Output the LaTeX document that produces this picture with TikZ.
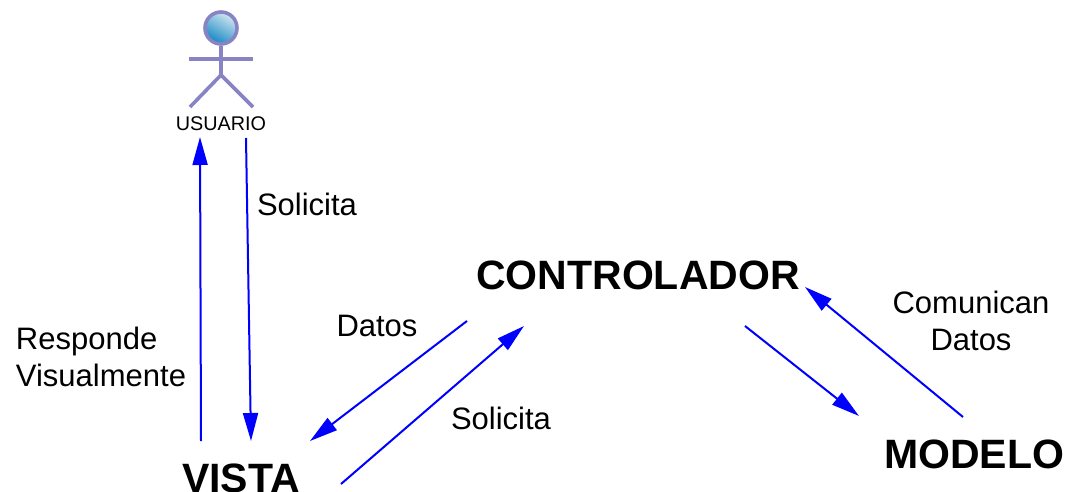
\documentclass[tikz,border=0pt]{standalone}
\usepackage{fontspec}
\setmainfont{Liberation Sans}
\usetikzlibrary{arrows.meta, positioning}

\definecolor{actorline}{HTML}{8884C4}
\definecolor{flowblue}{HTML}{0000FF}
\definecolor{headlight}{HTML}{D4E6F0}
\definecolor{headdark}{HTML}{1488C4}

\tikzset{
    block/.style = {inner sep=0pt, font=\fontsize{41}{41}\bfseries\selectfont},
    note/.style = {inner sep=0pt, font=\fontsize{31}{37}\selectfont},
    flow/.style = {-{Triangle[length=28pt,width=15pt]}, line width=2pt, flowblue},
    actor/.style = {line width=3.6pt, actorline}
}

\begin{document}
\begin{tikzpicture} [x=1pt, y=-1pt]
        \useasboundingbox (0,0) rectangle (1071,492);

        \node (usuario) [inner sep=0pt, font=\fontsize{19.8}{20}\selectfont] at (221,124) {USUARIO};
        \node (vista) [block] at (241,478) {VISTA};
        \node (controlador) [block] at (638,275) {CONTROLADOR};
        \node (modelo) [block] at (974,454) {MODELO};

        \node (solicitaA) [note] at (307,204) {Solicita};
        \node (responde) [note, align=left] at (101,357) {Responde\\Visualmente};
        \node (datos) [note] at (377,326) {Datos};
        \node (solicitaB) [note] at (501,418) {Solicita};
        \node (comunican) [note, align=center] at (971,321) {Comunican\\Datos};

        % actor
        \coordinate (head) at (221,28);
        \coordinate (hip) at (221,75);
        \draw [actor] (head) ++(0,18) -- (hip);
        \draw [actor] (189,59) -- (253,59);
        \draw [actor] (190,107) -- (hip) -- (253,107);
        \shade [shading=axis, top color=headlight, bottom color=headdark, shading angle=-30] (head) circle (16);
        \draw [actor] (head) circle (16);

        \draw [flow] ([shift={(-40,-37)}]vista.center) -- ([shift={(-21,13)}]usuario.center);
        \draw [flow] ([shift={(25,14)}]usuario.center) -- ([shift={(10,-37)}]vista.center);
        \draw [flow] ([shift={(-171,46)}]controlador.center) -- ([shift={(69,-37)}]vista.center);
        \draw [flow] ([shift={(100,6)}]vista.center) -- ([shift={(-114,51)}]controlador.center);
        \draw [flow] ([shift={(107,51)}]controlador.center) -- ([shift={(-115,-38)}]modelo.center);
        \draw [flow] ([shift={(-11,-37)}]modelo.center) -- ([shift={(167,12)}]controlador.center);
    \end{tikzpicture}
\end{document}
